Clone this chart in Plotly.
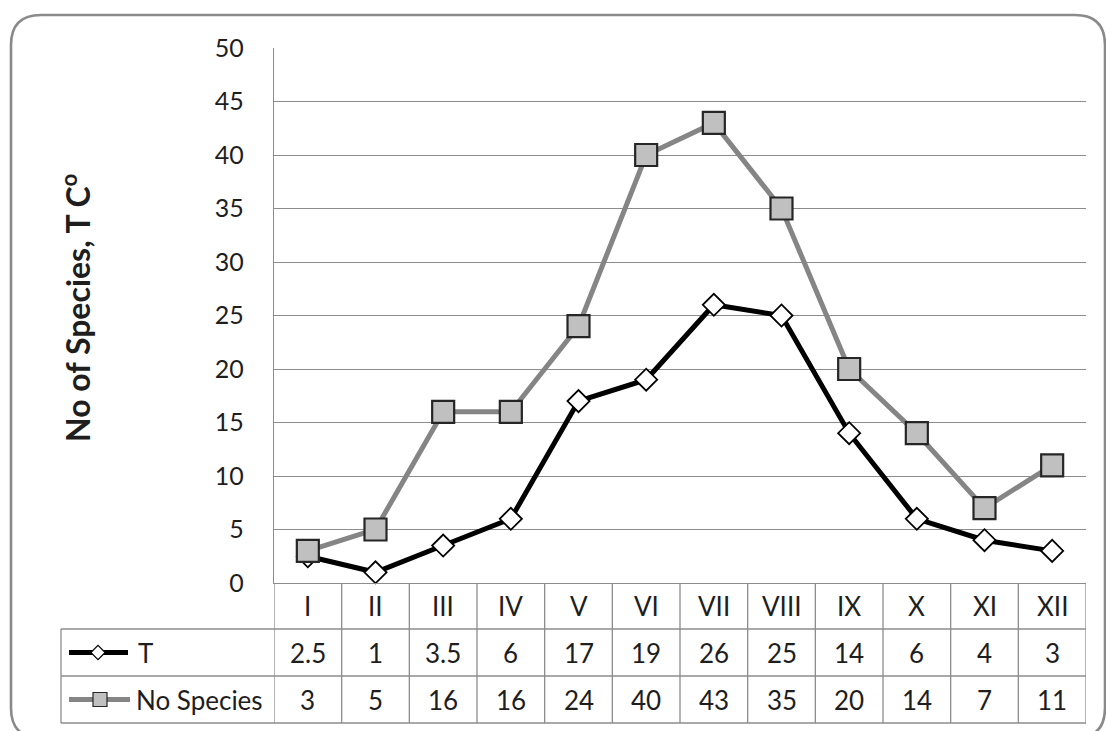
import plotly.graph_objects as go

months = ["I", "II", "III", "IV", "V", "VI", "VII", "VIII", "IX", "X", "XI", "XII"]
temp_T = [2.5, 1, 3.5, 6, 17, 19, 26, 25, 14, 6, 4, 3]
no_species = [3, 5, 16, 16, 24, 40, 43, 35, 20, 14, 7, 11]
y_ticks = [0, 5, 10, 15, 20, 25, 30, 35, 40, 45, 50]
series_names = ["T", "No Species"]

W, H = 1106, 731
FONT = "Lato"
TXT = "#1e1e1e"
GRID = "#8c8c8c"


def px(x):
    return x / W


def py(y):
    return 1 - y / H


# plot area in pixels
PL, PR, PT, PB = 274, 1086, 48, 583
# table rows (pixels)
ROW_LINES = [583, 629, 676, 723]
TABLE_LEFT = 61

xs = list(range(len(months)))

fig = go.Figure()

fig.add_trace(go.Scatter(
    x=xs, y=temp_T, mode="lines+markers", name=series_names[0],
    line=dict(color="#000000", width=5),
    marker=dict(symbol="diamond", size=17, color="#ffffff",
                line=dict(color="#000000", width=1.8)),
    cliponaxis=False, showlegend=False))

fig.add_trace(go.Scatter(
    x=xs, y=no_species, mode="lines+markers", name=series_names[1],
    line=dict(color="#858585", width=5),
    marker=dict(symbol="square", size=22, color="#c0c0c0",
                line=dict(color="#262626", width=2.2)),
    cliponaxis=False, showlegend=False))

# legend key symbols inside the data table (pixel-space helper axes)
row_T_y = (ROW_LINES[1] + ROW_LINES[2]) / 2
row_S_y = (ROW_LINES[2] + ROW_LINES[3]) / 2
fig.add_trace(go.Scatter(
    x=[69, 128], y=[row_T_y, row_T_y], mode="lines",
    line=dict(color="#000000", width=5), xaxis="x2", yaxis="y2",
    showlegend=False, hoverinfo="skip", cliponaxis=False))
fig.add_trace(go.Scatter(
    x=[98], y=[row_T_y], mode="markers",
    marker=dict(symbol="diamond", size=11, color="#ffffff",
                line=dict(color="#000000", width=1.2)),
    xaxis="x2", yaxis="y2", showlegend=False, hoverinfo="skip", cliponaxis=False))
fig.add_trace(go.Scatter(
    x=[69, 130], y=[row_S_y, row_S_y], mode="lines",
    line=dict(color="#858585", width=5), xaxis="x2", yaxis="y2",
    showlegend=False, hoverinfo="skip", cliponaxis=False))
fig.add_trace(go.Scatter(
    x=[100], y=[row_S_y], mode="markers",
    marker=dict(symbol="square", size=14, color="#c0c0c0",
                line=dict(color="#262626", width=1.2)),
    xaxis="x2", yaxis="y2", showlegend=False, hoverinfo="skip", cliponaxis=False))

shapes = []
line_style = dict(color=GRID, width=1.3)

# horizontal table lines
for yl in ROW_LINES[1:]:
    shapes.append(dict(type="line", xref="paper", yref="paper",
                       x0=px(TABLE_LEFT), x1=px(PR), y0=py(yl), y1=py(yl), line=line_style))
# vertical table lines at category boundaries
for i in range(len(months) + 1):
    shapes.append(dict(type="line", xref="x", yref="paper",
                       x0=i - 0.5, x1=i - 0.5, y0=py(ROW_LINES[0]), y1=py(ROW_LINES[3]),
                       line=line_style))
# table left edge
shapes.append(dict(type="line", xref="paper", yref="paper",
                   x0=px(TABLE_LEFT), x1=px(TABLE_LEFT), y0=py(ROW_LINES[1]), y1=py(ROW_LINES[3]),
                   line=line_style))

# rounded outer border (bottom edge just below the visible page)
bx0, by0, bx1, by1, r = 11, 15, 1105, 738, 30
path = (f"M {px(bx0 + r)},{py(by0)} L {px(bx1 - r)},{py(by0)} "
        f"Q {px(bx1)},{py(by0)} {px(bx1)},{py(by0 + r)} "
        f"L {px(bx1)},{py(by1 - r)} Q {px(bx1)},{py(by1)} {px(bx1 - r)},{py(by1)} "
        f"L {px(bx0 + r)},{py(by1)} Q {px(bx0)},{py(by1)} {px(bx0)},{py(by1 - r)} "
        f"L {px(bx0)},{py(by0 + r)} Q {px(bx0)},{py(by0)} {px(bx0 + r)},{py(by0)} Z")
shapes.append(dict(type="path", xref="paper", yref="paper", path=path,
                   line=dict(color="#8a8a8a", width=2.6)))

annotations = []
font_tbl = dict(family=FONT, size=26, color=TXT)
row_cat_y = (ROW_LINES[0] + ROW_LINES[1]) / 2
for i, m in enumerate(months):
    annotations.append(dict(x=i, y=py(row_cat_y), xref="x", yref="paper", text=m,
                            showarrow=False, font=font_tbl, xanchor="center", yanchor="middle"))
    annotations.append(dict(x=i, y=py(row_T_y), xref="x", yref="paper", text=f"{temp_T[i]:g}",
                            showarrow=False, font=font_tbl, xanchor="center", yanchor="middle"))
    annotations.append(dict(x=i, y=py(row_S_y), xref="x", yref="paper", text=f"{no_species[i]:g}",
                            showarrow=False, font=font_tbl, xanchor="center", yanchor="middle"))

annotations.append(dict(x=px(136), y=py(row_T_y), xref="paper", yref="paper", text=series_names[0],
                        showarrow=False, font=font_tbl, xanchor="left", yanchor="middle"))
annotations.append(dict(x=px(134), y=py(row_S_y), xref="paper", yref="paper", text=series_names[1],
                        showarrow=False, font=font_tbl, xanchor="left", yanchor="middle"))

# y-axis title
annotations.append(dict(x=px(76), y=py(308), xref="paper", yref="paper",
                        text="<b>No of Species, T C<sup>o</sup></b>", textangle=-90,
                        showarrow=False, font=dict(family=FONT, size=32, color=TXT),
                        xanchor="center", yanchor="middle"))

fig.update_layout(
    width=W, height=H,
    margin=dict(l=0, r=0, t=0, b=0, pad=0, autoexpand=False),
    paper_bgcolor="#ffffff", plot_bgcolor="rgba(0,0,0,0)",
    showlegend=False,
    xaxis=dict(domain=[px(PL), px(PR)], range=[-0.5, len(months) - 0.5],
               showgrid=False, zeroline=False, showticklabels=False, automargin=False,
               showline=True, linecolor=GRID, linewidth=1.3, fixedrange=True),
    yaxis=dict(domain=[py(PB), py(PT)], range=[0, 50], tickvals=y_ticks,
               showgrid=True, gridcolor=GRID, gridwidth=1.3, zeroline=False,
               showline=True, linecolor=GRID, linewidth=1.3, automargin=False,
               ticks="", ticklabelstandoff=24,
               tickfont=dict(family=FONT, size=25, color=TXT), fixedrange=True),
    xaxis2=dict(domain=[0, 1], range=[0, W], visible=False, anchor="y2",
                automargin=False, fixedrange=True),
    yaxis2=dict(domain=[0, 1], range=[H, 0], visible=False, anchor="x2",
                automargin=False, fixedrange=True),
    shapes=shapes,
    annotations=annotations,
)

fig.write_html("out.html")
